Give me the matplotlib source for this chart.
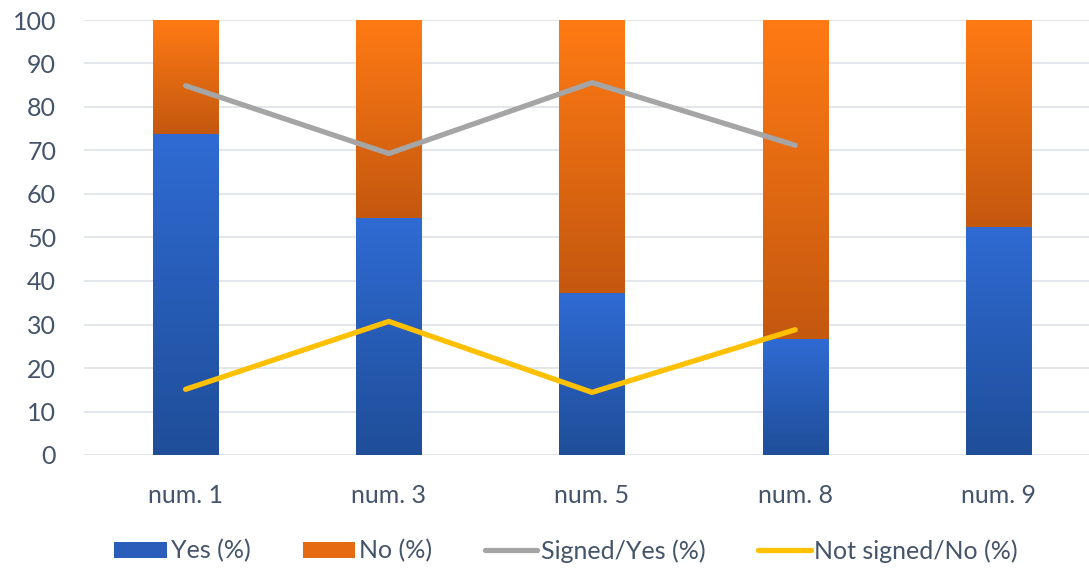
import matplotlib
matplotlib.use("Agg")
import matplotlib.pyplot as plt
import numpy as np
from matplotlib.colors import LinearSegmentedColormap
from matplotlib.patches import Patch
from matplotlib.lines import Line2D

categories = ["num. 1", "num. 3", "num. 5", "num. 8", "num. 9"]
yes_pct = [73.7, 54.4, 37.2, 26.7, 52.4]
no_pct = [26.3, 45.6, 62.8, 73.3, 47.6]
signed_yes = [84.9, 69.3, 85.6, 71.2]
not_signed_no = [15.1, 30.7, 14.4, 28.8]
yticks = [0, 10, 20, 30, 40, 50, 60, 70, 80, 90, 100]

plt.rcParams['font.family'] = ['Lato', 'DejaVu Sans']
txt = '#44546A'
fs = 18

fig = plt.figure(figsize=(10.89, 5.68), dpi=100)
ax = fig.add_axes([84/1089, 1 - 455/568, 1 - 84/1089, 435/568])

x = np.arange(len(categories))
w = 0.32
yes_bars = ax.bar(x, yes_pct, w, color='#2A5EBA', zorder=2)
no_bars = ax.bar(x, no_pct, w, bottom=yes_pct, color='#E66A12', zorder=2)

blue_cmap = LinearSegmentedColormap.from_list('b', ['#1F4E99', '#2F6BD3'])
orange_cmap = LinearSegmentedColormap.from_list('o', ['#C4580F', '#FF7A14'])
grad = np.linspace(0, 1, 256).reshape(-1, 1)
for bars, cmap in ((yes_bars, blue_cmap), (no_bars, orange_cmap)):
    for p in bars:
        x0, y0 = p.get_x(), p.get_y()
        x1, y1 = x0 + p.get_width(), y0 + p.get_height()
        im = ax.imshow(grad, cmap=cmap, extent=(x0, x1, y0, y1), origin='lower',
                       aspect='auto', zorder=2.1, interpolation='bilinear')
        im.set_clip_path(p)

ax.plot(x[:len(signed_yes)], signed_yes, color='#A5A5A5', lw=3.8,
        solid_capstyle='round', solid_joinstyle='round', zorder=3)
ax.plot(x[:len(not_signed_no)], not_signed_no, color='#FFC000', lw=3.8,
        solid_capstyle='round', solid_joinstyle='round', zorder=3)

ax.set_xlim(-0.5, 4.5 - 11/203.25)
ax.set_ylim(0, 100)
ax.set_yticks(yticks)
ax.set_xticks(x)
ax.set_xticklabels(categories)
ax.grid(axis='y', color='#E1E4E9', lw=1.3, zorder=0)
ax.set_axisbelow(True)
for s in ax.spines.values():
    s.set_visible(False)
ax.tick_params(axis='both', length=0, labelsize=fs, colors=txt)
ax.tick_params(axis='y', pad=20)
ax.tick_params(axis='x', pad=21)

handles = [Patch(facecolor='#2A5EBA', label='Yes (%)'),
           Patch(facecolor='#E66A12', label='No (%)'),
           Line2D([0], [0], color='#A5A5A5', lw=3.8, solid_capstyle='round', label='Signed/Yes (%)'),
           Line2D([0], [0], color='#FFC000', lw=3.8, solid_capstyle='round', label='Not signed/No (%)')]
leg = fig.legend(handles=handles, loc='center', bbox_to_anchor=(0.52, 1 - 551/568), ncol=4,
                 frameon=False, fontsize=fs, handlelength=2.1, handleheight=0.65,
                 handletextpad=0.15, columnspacing=2.1)
for t in leg.get_texts():
    t.set_color(txt)

fig.savefig('out.png', dpi=100)
